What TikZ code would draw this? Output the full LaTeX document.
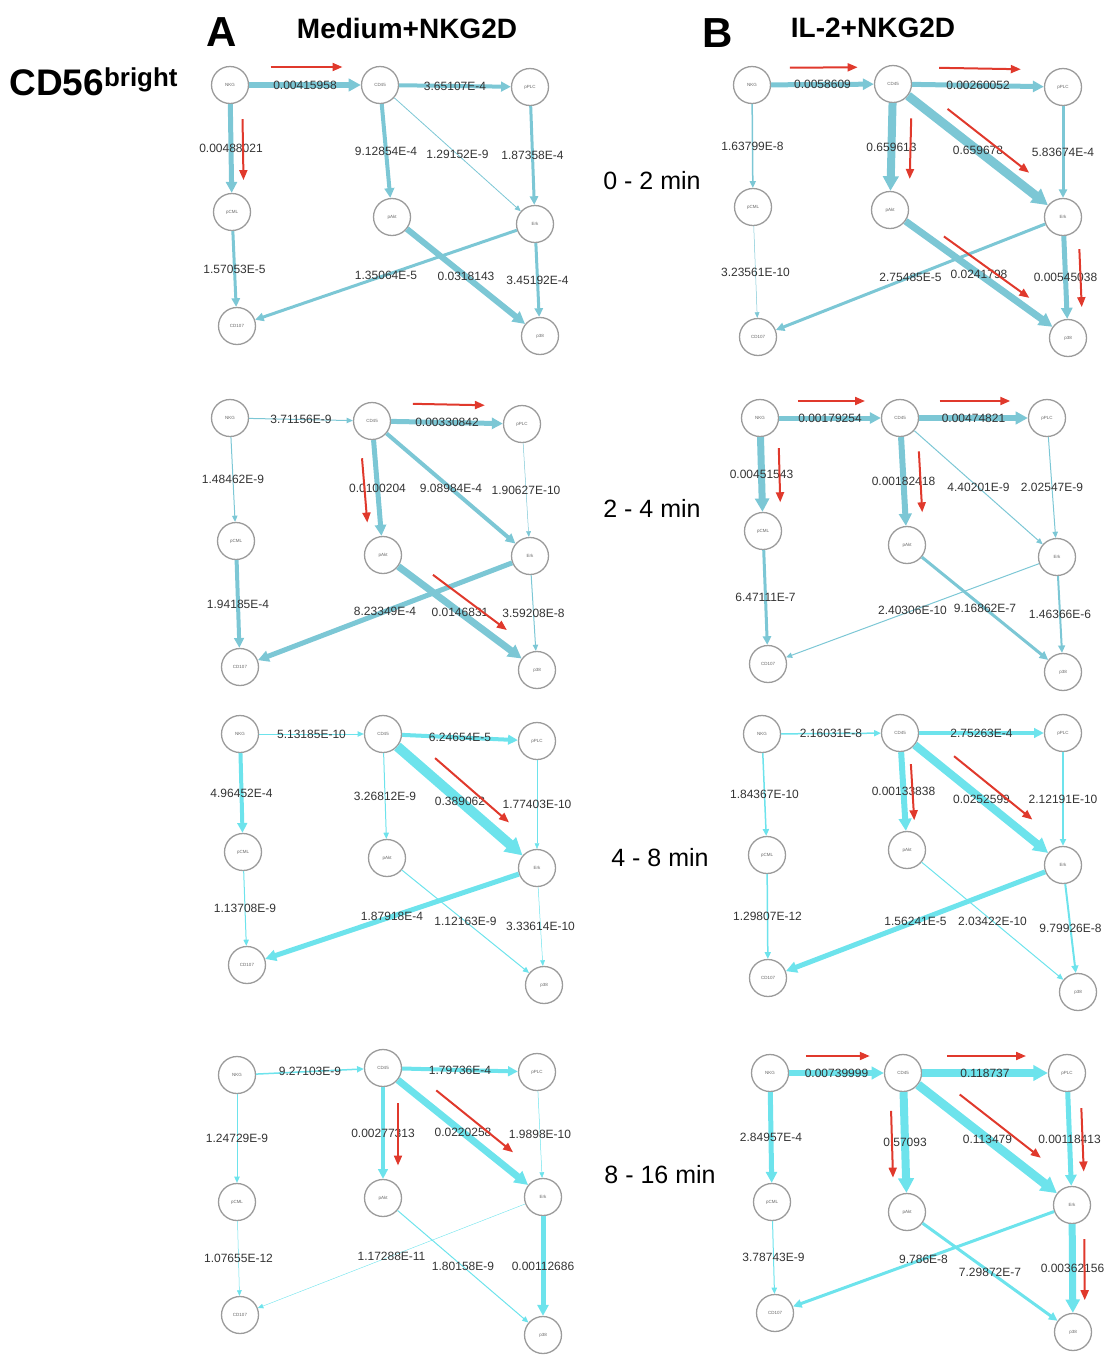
\documentclass[tikz,border=0pt]{standalone}
\usepackage{fontspec}
\setmainfont{Liberation Sans}
\usetikzlibrary{arrows.meta, calc}
\definecolor{edgesteel}{HTML}{7CC7D5}
\definecolor{edgecyan}{HTML}{6DE3EC}
\definecolor{hintred}{HTML}{E0392C}
\definecolor{ringgray}{HTML}{9B9B9B}
\colorlet{edgecol}{edgesteel}
% red hint arrow beside an edge (offset >0: left of direction)
\newcommand{\hint}[3]{\draw[hintarr] ($(#1)!0.27!(#2)!#3!90:(#2)$) -- ($(#1)!0.75!(#2)!#3!90:(#2)$);}

\begin{document}
\begin{tikzpicture}[
  x=1pt, y=-1pt,
  sig/.style={circle, draw=ringgray, line width=1.3pt, fill=white, minimum size=37pt,
    inner sep=0pt, font=\fontsize{4.5}{5}\selectfont, text=black!60},
  lnk/.style={draw=edgecol, line width=#1pt, -{Triangle[length=5pt 1.2 0, width=4pt 1.4 0]}},
  lbl/.style={midway, inner sep=0pt, font=\fontsize{12}{12}\selectfont, text=black!80},
  hintarr/.style={draw=hintred, line width=2pt, -{Triangle[length=10pt, width=8pt]}},
  panel/.style={font=\bfseries\fontsize{42}{42}\selectfont},
  cond/.style={font=\bfseries\fontsize{28}{28}\selectfont},
  period/.style={font=\fontsize{25}{25}\selectfont}
]
\useasboundingbox (0,0) rectangle (1115,1358);

% headings
\node[panel] (headA) at (222,32) {A};
\node[cond] (condA) at (407,28) {Medium+NKG2D};
\node[panel] (headB) at (718,33) {B};
\node[cond] (condB) at (873,28) {IL-2+NKG2D};
\node[font=\bfseries\fontsize{37}{37}\selectfont, anchor=west] (subset) at (6,82)
  {CD56\textsuperscript{bright}};
\node[period] (t1) at (652,181) {0 - 2 min};
\node[period] (t2) at (652,508) {2 - 4 min};
\node[period] (t3) at (660,858) {4 - 8 min};
\node[period] (t4) at (660,1175) {8 - 16 min};

% ---- A, 0-2 min
\node[sig] (a1nkg) at (230,85) {NKG};
\node[sig] (a1cd45) at (380,85) {CD45};
\node[sig] (a1pplc) at (530,87) {pPLC};
\node[sig] (a1pcml) at (232,212) {pCML};
\node[sig] (a1pakt) at (392,217) {pAkt};
\node[sig] (a1erk) at (535,224) {Erk};
\node[sig] (a1cd107) at (237,326) {CD107};
\node[sig] (a1p38) at (540,336) {p38};
\draw[lnk=6] (a1nkg) -- node[lbl]{0.00415958} (a1cd45);
\draw[lnk=4] (a1cd45) -- node[lbl]{3.65107E-4} (a1pplc);
\draw[lnk=5] (a1nkg) -- node[lbl]{0.00488021} (a1pcml);
\draw[lnk=4] (a1cd45) -- node[lbl]{9.12854E-4} (a1pakt);
\draw[lnk=0.8] (a1cd45) -- node[lbl]{1.29152E-9} (a1erk);
\draw[lnk=3] (a1pplc) -- node[lbl]{1.87358E-4} (a1erk);
\draw[lnk=3] (a1pcml) -- node[lbl]{1.57053E-5} (a1cd107);
\draw[lnk=3] (a1erk) -- node[lbl]{1.35064E-5} (a1cd107);
\draw[lnk=6] (a1pakt) -- node[lbl]{0.0318143} (a1p38);
\draw[lnk=3] (a1erk) -- node[lbl]{3.45192E-4} (a1p38);
\hint{a1nkg}{a1cd45}{18pt}
\hint{a1nkg}{a1pcml}{12pt}

% ---- B, 0-2 min
\node[sig] (b1nkg) at (752,85) {NKG};
\node[sig] (b1cd45) at (893,84) {CD45};
\node[sig] (b1pplc) at (1063,87) {pPLC};
\node[sig] (b1pcml) at (753,207) {pCML};
\node[sig] (b1pakt) at (890,210) {pAkt};
\node[sig] (b1erk) at (1063,217) {Erk};
\node[sig] (b1cd107) at (758,337) {CD107};
\node[sig] (b1p38) at (1068,338) {p38};
\draw[lnk=5] (b1nkg) -- node[lbl]{0.0058609} (b1cd45);
\draw[lnk=5] (b1cd45) -- node[lbl]{0.00260052} (b1pplc);
\draw[lnk=1.5] (b1nkg) -- node[lbl]{1.63799E-8} (b1pcml);
\draw[lnk=8] (b1cd45) -- node[lbl]{0.659613} (b1pakt);
\draw[lnk=9] (b1cd45) -- node[lbl]{0.659678} (b1erk);
\draw[lnk=3] (b1pplc) -- node[lbl]{5.83674E-4} (b1erk);
\draw[lnk=0.5] (b1pcml) -- node[lbl]{3.23561E-10} (b1cd107);
\draw[lnk=3] (b1erk) -- node[lbl]{2.75485E-5} (b1cd107);
\draw[lnk=7] (b1pakt) -- node[lbl]{0.0241798} (b1p38);
\draw[lnk=5] (b1erk) -- node[lbl]{0.00545038} (b1p38);
\hint{b1nkg}{b1cd45}{17pt}
\hint{b1cd45}{b1pplc}{17pt}
\hint{b1cd45}{b1pakt}{19pt}
\hint{b1cd45}{b1erk}{14pt}
\hint{b1pakt}{b1p38}{10pt}
\hint{b1erk}{b1p38}{15pt}

% ---- A, 2-4 min
\node[sig] (a2nkg) at (230,418) {NKG};
\node[sig] (a2cd45) at (372,421) {CD45};
\node[sig] (a2pplc) at (522,424) {pPLC};
\node[sig] (a2pcml) at (236,541) {pCML};
\node[sig] (a2pakt) at (383,555) {pAkt};
\node[sig] (a2erk) at (530,556) {Erk};
\node[sig] (a2cd107) at (240,667) {CD107};
\node[sig] (a2p38) at (537,670) {p38};
\draw[lnk=1] (a2nkg) -- node[lbl]{3.71156E-9} (a2cd45);
\draw[lnk=5] (a2cd45) -- node[lbl]{0.00330842} (a2pplc);
\draw[lnk=1] (a2nkg) -- node[lbl]{1.48462E-9} (a2pcml);
\draw[lnk=5] (a2cd45) -- node[lbl]{0.0100204} (a2pakt);
\draw[lnk=4] (a2cd45) -- node[lbl]{9.08984E-4} (a2erk);
\draw[lnk=0.5] (a2pplc) -- node[lbl]{1.90627E-10} (a2erk);
\draw[lnk=4] (a2pcml) -- node[lbl]{1.94185E-4} (a2cd107);
\draw[lnk=5] (a2erk) -- node[lbl]{8.23349E-4} (a2cd107);
\draw[lnk=7] (a2pakt) -- node[lbl]{0.0146831} (a2p38);
\draw[lnk=1] (a2erk) -- node[lbl]{3.59208E-8} (a2p38);
\hint{a2cd45}{a2pplc}{18pt}
\hint{a2cd45}{a2pakt}{-13pt}
\hint{a2pakt}{a2p38}{14pt}

% ---- B, 2-4 min
\node[sig] (b2nkg) at (760,418) {NKG};
\node[sig] (b2cd45) at (900,418) {CD45};
\node[sig] (b2pplc) at (1047,418) {pPLC};
\node[sig] (b2pcml) at (763,531) {pCML};
\node[sig] (b2pakt) at (907,545) {pAkt};
\node[sig] (b2erk) at (1057,557) {Erk};
\node[sig] (b2cd107) at (768,664) {CD107};
\node[sig] (b2p38) at (1063,672) {p38};
\draw[lnk=5] (b2nkg) -- node[lbl]{0.00179254} (b2cd45);
\draw[lnk=6] (b2cd45) -- node[lbl]{0.00474821} (b2pplc);
\draw[lnk=7] (b2nkg) -- node[lbl]{0.00451543} (b2pcml);
\draw[lnk=6] (b2cd45) -- node[lbl]{0.00182418} (b2pakt);
\draw[lnk=1] (b2cd45) -- node[lbl]{4.40201E-9} (b2erk);
\draw[lnk=1] (b2pplc) -- node[lbl]{2.02547E-9} (b2erk);
\draw[lnk=3] (b2pcml) -- node[lbl]{6.47111E-7} (b2cd107);
\draw[lnk=1] (b2erk) -- node[lbl]{2.40306E-10} (b2cd107);
\draw[lnk=3] (b2pakt) -- node[lbl]{9.16862E-7} (b2p38);
\draw[lnk=2] (b2erk) -- node[lbl]{1.46366E-6} (b2p38);
\hint{b2nkg}{b2cd45}{17pt}
\hint{b2cd45}{b2pplc}{17pt}
\hint{b2nkg}{b2pcml}{18pt}
\hint{b2cd45}{b2pakt}{17pt}

\colorlet{edgecol}{edgecyan}
% ---- A, 4-8 min
\node[sig] (a3nkg) at (240,734) {NKG};
\node[sig] (a3cd45) at (383,734) {CD45};
\node[sig] (a3pplc) at (537,741) {pPLC};
\node[sig] (a3pcml) at (243,852) {pCML};
\node[sig] (a3pakt) at (387,858) {pAkt};
\node[sig] (a3erk) at (537,868) {Erk};
\node[sig] (a3cd107) at (247,965) {CD107};
\node[sig] (a3p38) at (544,985) {p38};
\draw[lnk=1] (a3nkg) -- node[lbl]{5.13185E-10} (a3cd45);
\draw[lnk=4] (a3cd45) -- node[lbl]{6.24654E-5} (a3pplc);
\draw[lnk=4] (a3nkg) -- node[lbl]{4.96452E-4} (a3pcml);
\draw[lnk=1] (a3cd45) -- node[lbl]{3.26812E-9} (a3pakt);
\draw[lnk=10] (a3cd45) -- node[lbl]{0.389062} (a3erk);
\draw[lnk=0.5] (a3pplc) -- node[lbl]{1.77403E-10} (a3erk);
\draw[lnk=1] (a3pcml) -- node[lbl]{1.13708E-9} (a3cd107);
\draw[lnk=5] (a3erk) -- node[lbl]{1.87918E-4} (a3cd107);
\draw[lnk=1] (a3pakt) -- node[lbl]{1.12163E-9} (a3p38);
\draw[lnk=0.5] (a3erk) -- node[lbl]{3.33614E-10} (a3p38);
\hint{a3cd45}{a3erk}{16pt}

% ---- B, 4-8 min
\node[sig] (b3nkg) at (762,734) {NKG};
\node[sig] (b3cd45) at (900,733) {CD45};
\node[sig] (b3pplc) at (1063,733) {pPLC};
\node[sig] (b3pcml) at (767,855) {pCML};
\node[sig] (b3pakt) at (907,850) {pAkt};
\node[sig] (b3erk) at (1063,865) {Erk};
\node[sig] (b3cd107) at (768,978) {CD107};
\node[sig] (b3p38) at (1078,992) {p38};
\draw[lnk=1.5] (b3nkg) -- node[lbl]{2.16031E-8} (b3cd45);
\draw[lnk=4] (b3cd45) -- node[lbl]{2.75263E-4} (b3pplc);
\draw[lnk=1.5] (b3nkg) -- node[lbl]{1.84367E-10} (b3pcml);
\draw[lnk=6] (b3cd45) -- node[lbl]{0.00133838} (b3pakt);
\draw[lnk=8] (b3cd45) -- node[lbl]{0.0252599} (b3erk);
\draw[lnk=1.5] (b3pplc) -- node[lbl]{2.12191E-10} (b3erk);
\draw[lnk=1.5] (b3pcml) -- node[lbl]{1.29807E-12} (b3cd107);
\draw[lnk=5] (b3erk) -- node[lbl]{1.56241E-5} (b3cd107);
\draw[lnk=1] (b3pakt) -- node[lbl]{2.03422E-10} (b3p38);
\draw[lnk=2] (b3erk) -- node[lbl]{9.79926E-8} (b3p38);
\hint{b3cd45}{b3pakt}{9pt}
\hint{b3cd45}{b3erk}{16pt}

% ---- A, 8-16 min
\node[sig] (a4nkg) at (237,1075) {NKG};
\node[sig] (a4cd45) at (383,1068) {CD45};
\node[sig] (a4pplc) at (537,1072) {pPLC};
\node[sig] (a4pcml) at (237,1202) {pCML};
\node[sig] (a4pakt) at (383,1198) {pAkt};
\node[sig] (a4erk) at (543,1197) {Erk};
\node[sig] (a4cd107) at (240,1315) {CD107};
\node[sig] (a4p38) at (543,1335) {p38};
\draw[lnk=1.5] (a4nkg) -- node[lbl]{9.27103E-9} (a4cd45);
\draw[lnk=4] (a4cd45) -- node[lbl]{1.79736E-4} (a4pplc);
\draw[lnk=1] (a4nkg) -- node[lbl]{1.24729E-9} (a4pcml);
\draw[lnk=4] (a4cd45) -- node[lbl]{0.00277313} (a4pakt);
\draw[lnk=7] (a4cd45) -- node[lbl]{0.0220258} (a4erk);
\draw[lnk=0.5] (a4pplc) -- node[lbl]{1.9898E-10} (a4erk);
\draw[lnk=0.5] (a4pcml) -- node[lbl]{1.07655E-12} (a4cd107);
\draw[lnk=0.4] (a4erk) -- node[lbl]{1.17288E-11} (a4cd107);
\draw[lnk=1] (a4pakt) -- node[lbl]{1.80158E-9} (a4p38);
\draw[lnk=5] (a4erk) -- node[lbl]{0.00112686} (a4p38);
\hint{a4cd45}{a4pakt}{15pt}
\hint{a4cd45}{a4erk}{16pt}

% ---- B, 8-16 min
\node[sig] (b4nkg) at (770,1073) {NKG};
\node[sig] (b4cd45) at (903,1073) {CD45};
\node[sig] (b4pplc) at (1067,1073) {pPLC};
\node[sig] (b4pcml) at (772,1202) {pCML};
\node[sig] (b4pakt) at (907,1212) {pAkt};
\node[sig] (b4erk) at (1072,1205) {Erk};
\node[sig] (b4cd107) at (775,1313) {CD107};
\node[sig] (b4p38) at (1073,1332) {p38};
\draw[lnk=6] (b4nkg) -- node[lbl]{0.00739999} (b4cd45);
\draw[lnk=8] (b4cd45) -- node[lbl]{0.118737} (b4pplc);
\draw[lnk=5] (b4nkg) -- node[lbl]{2.84957E-4} (b4pcml);
\draw[lnk=8] (b4cd45) -- node[lbl]{0.57093} (b4pakt);
\draw[lnk=9] (b4cd45) -- node[lbl]{0.113479} (b4erk);
\draw[lnk=5] (b4pplc) -- node[lbl]{0.00118413} (b4erk);
\draw[lnk=1] (b4pcml) -- node[lbl]{3.78743E-9} (b4cd107);
\draw[lnk=3] (b4erk) -- node[lbl]{9.786E-8} (b4cd107);
\draw[lnk=3] (b4pakt) -- node[lbl]{7.29872E-7} (b4p38);
\draw[lnk=7] (b4erk) -- node[lbl]{0.00362156} (b4p38);
\hint{b4nkg}{b4cd45}{17pt}
\hint{b4cd45}{b4pplc}{17pt}
\hint{b4cd45}{b4pakt}{-13pt}
\hint{b4cd45}{b4erk}{18pt}
\hint{b4pplc}{b4erk}{13pt}
\hint{b4erk}{b4p38}{12pt}
\end{tikzpicture}
\end{document}
